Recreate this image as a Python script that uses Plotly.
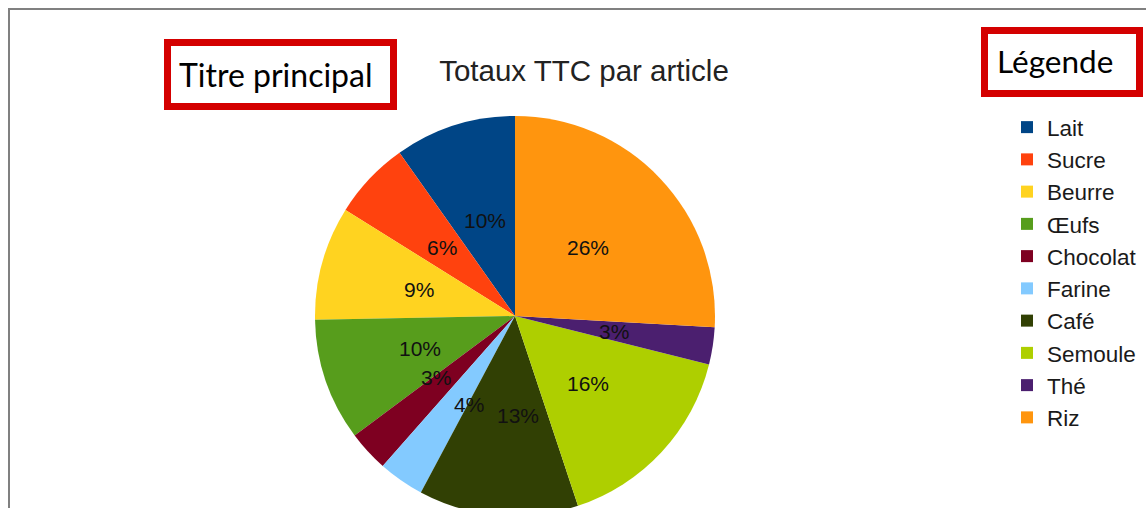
import math
import plotly.graph_objects as go

# ---- data ----
articles = ["Lait", "Sucre", "Beurre", "Œufs", "Chocolat", "Farine", "Café", "Semoule", "Thé", "Riz"]
totaux_ttc = [9.8, 6.3, 9.2, 9.9, 3.3, 3.7, 12.9, 16.0, 3.0, 25.9]
couleurs = ["#004586", "#ff420e", "#ffd320", "#579d1c", "#7e0021",
            "#83caff", "#314004", "#aecf00", "#4b1f6f", "#ff950e"]
titre = "Totaux TTC par article"

# label placement nudges (degrees) used by the original to keep small labels apart
label_nudge_deg = [0, 0, 0, 0, -4.6, 7.6, 6.8, 0, 0, 0]

W, H = 1146, 516               # figure is a bit taller than the window: pie is cut at the bottom
cx_px, R = 515, 200            # pie centre (px from left) and radius
cy_px = R                      # centre measured from bottom

total = sum(totaux_ttc)
fig = go.Figure()
fig.add_trace(go.Pie(
    labels=articles, values=totaux_ttc, sort=False, direction="counterclockwise",
    rotation=-360 * totaux_ttc[0] / total,
    marker=dict(colors=couleurs, line=dict(width=0)),
    textposition="none", hoverinfo="label+percent",
    domain=dict(x=[(cx_px - R) / W, (cx_px + R) / W], y=[0, 2 * R / H]),
))

# percentage labels at half radius, computed from the values
annotations = []
cum = 0.0
for v, nd in zip(totaux_ttc, label_nudge_deg):
    a = 2 * math.pi * (cum + v / 2) / total + math.radians(nd)
    cum += v
    x = (cx_px - 0.5 * R * math.sin(a)) / W
    y = (cy_px + 0.5 * R * math.cos(a)) / H
    annotations.append(dict(x=x, y=y, xref="paper", yref="paper", showarrow=False,
                            xanchor="center", yanchor="middle",
                            text=f"{round(100 * v / total)}%",
                            font=dict(family="Liberation Sans", size=21, color="#111111")))

# callout texts
annotations.append(dict(x=276 / W, y=1 - 74.5 / H, xref="paper", yref="paper", showarrow=False,
                        text="Titre principal", xanchor="center", yanchor="middle",
                        font=dict(family="Lato", size=32, color="#000000")))
annotations.append(dict(x=1055 / W, y=1 - 61.5 / H, xref="paper", yref="paper", showarrow=False,
                        text="Légende", xanchor="center", yanchor="middle",
                        font=dict(family="Lato", size=31.5, color="#000000")))

shapes = [
    # chart frame (extends past right and bottom edges)
    dict(type="rect", xref="paper", yref="paper", x0=9 / W, x1=1.05, y0=-0.05, y1=1 - 9 / H,
         line=dict(color="#808080", width=2), layer="below"),
    # red callout boxes
    dict(type="rect", xref="paper", yref="paper", x0=167.5 / W, x1=393.5 / W,
         y0=1 - 106.5 / H, y1=1 - 42.5 / H, line=dict(color="#d40000", width=7)),
    dict(type="rect", xref="paper", yref="paper", x0=984.5 / W, x1=1139.5 / W,
         y0=1 - 93.5 / H, y1=1 - 30.5 / H, line=dict(color="#d40000", width=7)),
]

fig.update_layout(
    width=W, height=H, margin=dict(l=0, r=0, t=0, b=0),
    paper_bgcolor="white", plot_bgcolor="white",
    title=dict(text=titre, x=584 / W, xanchor="center", y=1 - 71 / H, yanchor="middle",
               yref="container", font=dict(family="Liberation Sans", size=29.5, color="#222222")),
    showlegend=True,
    legend=dict(x=1007 / W, xanchor="left", y=1 - 106 / H, yanchor="top",
                font=dict(family="Liberation Sans", size=22.5, color="#1a1a1a"),
                bgcolor="rgba(0,0,0,0)", traceorder="normal"),
    annotations=annotations, shapes=shapes,
)

fig.write_html("out.html", config={"displayModeBar": False},
               post_script="document.body.style.margin='0';document.body.style.overflow='hidden';")
